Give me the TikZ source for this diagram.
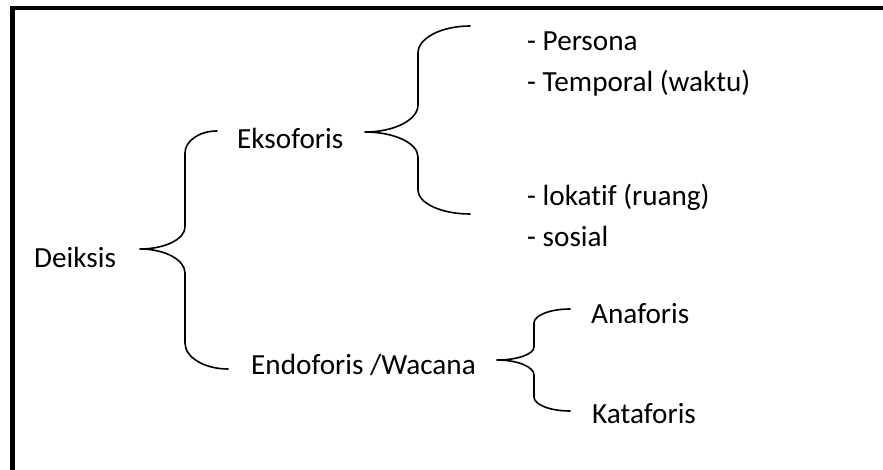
\documentclass[tikz,border=0pt]{standalone}
\usepackage{fontspec}
\setmainfont[Ligatures=NoCommon]{Carlito}
\begin{document}
\begin{tikzpicture}[x=1pt,y=-1pt,
  lbl/.style={anchor=base west,inner sep=0pt,font=\fontsize{29.2}{34}\selectfont,text=black},
  bracepath/.style={line width=1.6pt,line cap=round,line join=round},
  frameline/.style={line width=4.6pt}]
\useasboundingbox (0,0) rectangle (883,470);
\clip (0,0) rectangle (883,470);
% frame (only top and left edges visible)
\coordinate (fbl) at (12.5,480);
\coordinate (ftl) at (12.5,8);
\coordinate (ftr) at (895,8);
\draw[frameline] (fbl) -- (ftl) -- (ftr);
% labels
\node[lbl] (deiksis) at (34,268) {Deiksis};
\node[lbl] (eksoforis) at (237,149) {Eksoforis};
\node[lbl] (endoforis) at (251,374) {Endoforis /Wacana};
\node[lbl] (persona) at (527,51) {- Persona};
\node[lbl] (temporal) at (527,92) {- Temporal (waktu)};
\node[lbl] (lokatif) at (527,206) {- lokatif (ruang)};
\node[lbl] (sosial) at (527,247) {- sosial};
\node[lbl] (anaforis) at (591,323) {Anaforis};
\node[lbl] (kataforis) at (592,423) {Kataforis};
% brace 1
\coordinate (b1top) at (217,131);
\coordinate (b1tip) at (140,249);
\coordinate (b1bot) at (228,369);
\draw[bracepath] (b1top) .. controls (199.3,131) and (185,140.9) .. (185,153)
  -- (185,227) .. controls (185,239.1) and (164.8,249) .. (b1tip)
  .. controls (164.8,249) and (185,259.8) .. (185,273)
  -- (185,343) .. controls (185,357.3) and (204.3,369) .. (b1bot);
% brace 2
\coordinate (b2top) at (470,26);
\coordinate (b2tip) at (365,132);
\coordinate (b2bot) at (470,214);
\draw[bracepath] (b2top) .. controls (441.3,26) and (418,38.1) .. (418,53)
  -- (418,105) .. controls (418,119.9) and (394.3,132) .. (b2tip)
  .. controls (394.3,132) and (418,143.2) .. (418,157)
  -- (418,190) .. controls (418,203.2) and (441.3,214) .. (b2bot);
% brace 3
\coordinate (b3top) at (570,309);
\coordinate (b3tip) at (497,360);
\coordinate (b3bot) at (570,411);
\draw[bracepath] (b3top) .. controls (550.1,309) and (534,315.3) .. (534,323)
  -- (534,347) .. controls (534,354.2) and (517.4,360) .. (b3tip)
  .. controls (517.4,360) and (534,366.7) .. (534,375)
  -- (534,397) .. controls (534,404.7) and (550.1,411) .. (b3bot);
\end{tikzpicture}
\end{document}
